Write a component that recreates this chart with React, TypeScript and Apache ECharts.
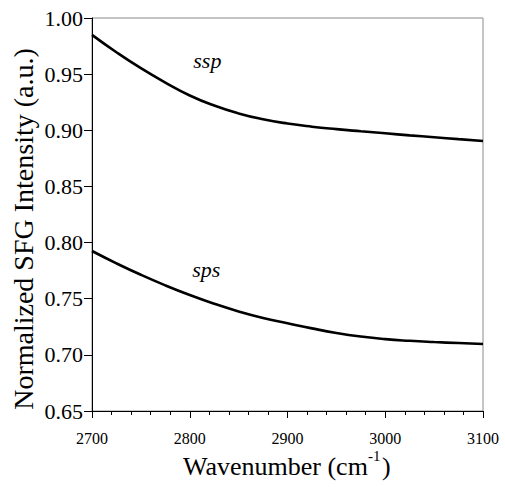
import React, { useEffect, useRef } from "react";
import * as echarts from "echarts";

// Wavenumber samples (cm^-1)
const wavenumbers = [
  2700, 2725, 2750, 2775, 2800, 2825, 2850, 2875, 2900,
  2925, 2950, 2975, 3000, 3025, 3050, 3075, 3100,
];

// Normalized SFG intensity, ssp polarization
const sspValues = [
  0.985, 0.9695, 0.9553, 0.9425, 0.931, 0.922, 0.915, 0.9098, 0.906,
  0.9032, 0.901, 0.8991, 0.8973, 0.8955, 0.8938, 0.8921, 0.8905,
];

// Normalized SFG intensity, sps polarization
const spsValues = [
  0.7925, 0.7815, 0.7713, 0.7619, 0.7533, 0.7455, 0.7387, 0.7329, 0.7282,
  0.7236, 0.7195, 0.7163, 0.714, 0.7125, 0.7114, 0.7105, 0.7097,
];

const xTicks = { min: 2700, max: 3100, step: 100 };
const yTicks = { min: 0.65, max: 1.0, step: 0.05 };

const SERIF = "Liberation Serif";

export default function App() {
  const ref = useRef<HTMLDivElement>(null);

  useEffect(() => {
    if (!ref.current) return;
    const chart = echarts.init(ref.current, null, { renderer: "svg" });

    const pairs = (ys: number[]) => wavenumbers.map((x, i) => [x, ys[i]]);

    const curveLabel = (text: string, coord: [number, number]) => ({
      symbol: "circle",
      symbolSize: 0,
      silent: true,
      data: [
        {
          coord,
          label: {
            show: true,
            position: "inside",
            formatter: text,
            fontFamily: SERIF,
            fontStyle: "italic",
            fontSize: 22,
            color: "#000",
          },
        },
      ],
    });

    chart.setOption({
      animation: false,
      backgroundColor: "#fff",
      textStyle: { fontFamily: SERIF },
      grid: {
        left: 92,
        right: 22,
        top: 18,
        bottom: 76,
        show: true,
        borderColor: "#8a8a8a",
        borderWidth: 1,
        backgroundColor: "transparent",
      },
      xAxis: {
        type: "value",
        min: xTicks.min,
        max: xTicks.max,
        interval: xTicks.step,
        axisLine: { show: true, onZero: false, lineStyle: { color: "#000", width: 1 } },
        axisTick: { show: true, inside: false, length: 7, lineStyle: { color: "#000" } },
        minorTick: { show: true, splitNumber: 5, length: 4, lineStyle: { color: "#000" } },
        splitLine: { show: false },
        axisLabel: {
          margin: 19,
          fontFamily: SERIF,
          fontSize: 16,
          color: "#000",
          formatter: (v: number) => String(v),
        },
      },
      yAxis: {
        type: "value",
        min: yTicks.min,
        max: yTicks.max,
        interval: yTicks.step,
        axisLine: { show: true, onZero: false, lineStyle: { color: "#000", width: 1 } },
        axisTick: { show: true, inside: false, length: 8, lineStyle: { color: "#000" } },
        splitLine: { show: false },
        axisLabel: {
          margin: 9,
          fontFamily: SERIF,
          fontSize: 22,
          color: "#000",
          formatter: (v: number) => v.toFixed(2),
        },
      },
      graphic: [
        {
          type: "group",
          silent: true,
          children: [
            {
              type: "text",
              x: 183,
              y: 466,
              style: {
                text: "Wavenumber (cm",
                fontFamily: SERIF,
                fontSize: 26,
                fill: "#000",
                textAlign: "left",
                textVerticalAlign: "middle",
              },
            },
            {
              type: "text",
              x: 368,
              y: 456,
              style: {
                text: "-1",
                fontFamily: SERIF,
                fontSize: 15,
                fill: "#000",
                textAlign: "left",
                textVerticalAlign: "middle",
              },
            },
            {
              type: "text",
              x: 382,
              y: 466,
              style: {
                text: ")",
                fontFamily: SERIF,
                fontSize: 26,
                fill: "#000",
                textAlign: "left",
                textVerticalAlign: "middle",
              },
            },
          ],
        },
        {
          type: "text",
          x: 23.5,
          y: 229,
          rotation: Math.PI / 2,
          silent: true,
          style: {
            text: "Normalized SFG Intensity (a.u.)",
            fontFamily: SERIF,
            fontSize: 28,
            fill: "#000",
            textAlign: "center",
            textVerticalAlign: "middle",
          },
        },
      ],
      series: [
        {
          name: "ssp",
          type: "line",
          data: pairs(sspValues),
          smooth: 0.5,
          showSymbol: false,
          lineStyle: { color: "#000", width: 2.6 },
          markPoint: curveLabel("ssp", [2818, 0.962]),
        },
        {
          name: "sps",
          type: "line",
          data: pairs(spsValues),
          smooth: 0.5,
          showSymbol: false,
          lineStyle: { color: "#000", width: 2.6 },
          markPoint: curveLabel("sps", [2817, 0.776]),
        },
      ],
    });

    return () => chart.dispose();
  }, []);

  return (
    <div
      ref={ref}
      style={{ position: "fixed", left: 0, top: 0, width: 505, height: 487, background: "#fff" }}
    />
  );
}
